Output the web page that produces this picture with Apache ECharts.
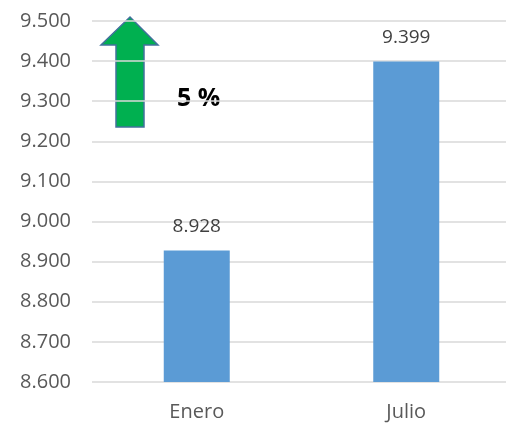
<!DOCTYPE html>
<html><head><meta charset="utf-8">
<script src="https://cdn.jsdelivr.net/npm/echarts@6/dist/echarts.min.js"></script>
<style>html,body{margin:0;padding:0;background:#fff}#c{width:506px;height:424px}</style>
</head><body><div id="c"></div>
<script>
var categories = ['Enero', 'Julio'];
var values = [8928, 9399];
var yMin = 8600, yMax = 9500, yStep = 100;
var changeText = '5 %';

function fmt(v){ return (v/1000).toFixed(3); }
var chart = echarts.init(document.getElementById('c'));
var FONT = 'Open Sans';
chart.setOption({
  animation:false,
  grid:{left:92,width:419,top:21,height:361,outerBoundsMode:'none',containLabel:false},
  xAxis:{type:'category',data:categories,
    axisLine:{show:false},axisTick:{show:false},
    axisLabel:{color:'#595959',fontFamily:FONT,fontSize:20,margin:20}},
  yAxis:{type:'value',min:yMin,max:yMax,interval:yStep,
    axisLine:{show:false},axisTick:{show:false},
    splitLine:{lineStyle:{color:'#D9D9D9',width:1.5}},
    axisLabel:{color:'#595959',fontFamily:FONT,fontSize:20,margin:21,formatter:fmt}},
  series:[{type:'bar',data:values,barWidth:'31.5%',
    itemStyle:{color:'#5B9BD5'},
    label:{show:true,position:'top',distance:14,color:'#404040',fontFamily:FONT,fontSize:19,
      formatter:function(p){return fmt(p.value);}}}],
  graphic:[
    {type:'polygon',shape:{points:[[130,17],[101,45],[116,45],[116,127],[144,127],[144,45],[158,45]]},
     style:{fill:'#00B050',stroke:'#41719C',lineWidth:1.5}},
    {type:'text',left:177,top:86,style:{text:changeText,fontFamily:FONT,fontWeight:'bold',fontSize:25,fill:'#000'}}
  ]
});
</script></body></html>
